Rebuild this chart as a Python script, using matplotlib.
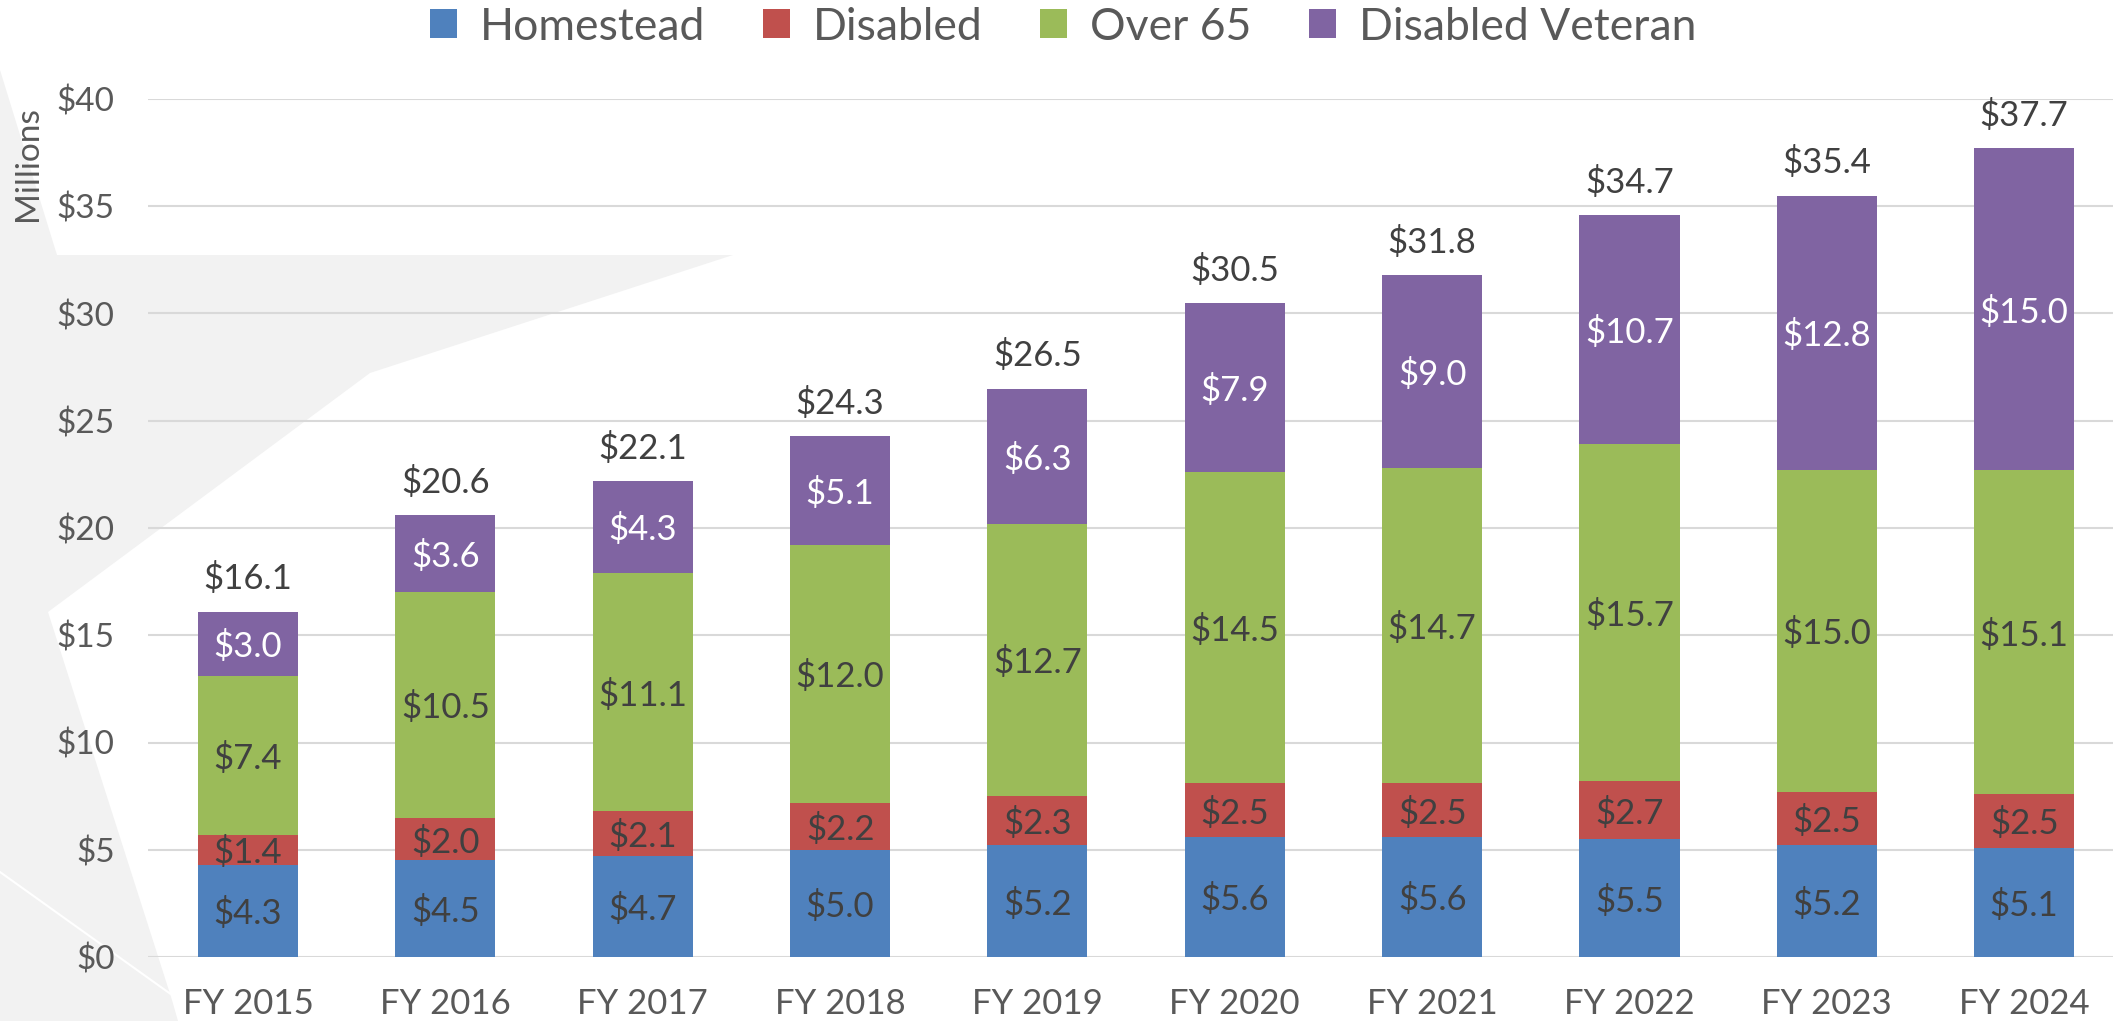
import matplotlib
matplotlib.use("Agg")
import matplotlib.pyplot as plt
from matplotlib.patches import Polygon, Patch
import numpy as np

plt.rcParams['font.family'] = ['Lato', 'DejaVu Sans']

years = ["FY 2015", "FY 2016", "FY 2017", "FY 2018", "FY 2019",
         "FY 2020", "FY 2021", "FY 2022", "FY 2023", "FY 2024"]
homestead = [4.3, 4.5, 4.7, 5.0, 5.2, 5.6, 5.6, 5.5, 5.2, 5.1]
disabled = [1.4, 2.0, 2.1, 2.2, 2.3, 2.5, 2.5, 2.7, 2.5, 2.5]
over65 = [7.4, 10.5, 11.1, 12.0, 12.7, 14.5, 14.7, 15.7, 15.0, 15.1]
dis_veteran = [3.0, 3.6, 4.3, 5.1, 6.3, 7.9, 9.0, 10.7, 12.8, 15.0]
totals = [16.1, 20.6, 22.1, 24.3, 26.5, 30.5, 31.8, 34.7, 35.4, 37.7]
series_names = ["Homestead", "Disabled", "Over 65", "Disabled Veteran"]
yticks = [0, 5, 10, 15, 20, 25, 30, 35, 40]

colors = ["#4F81BD", "#C0504D", "#9BBB59", "#8064A2"]
label_colors = ["#404040", "#404040", "#404040", "#FFFFFF"]

W, H = 2113, 1021
fig = plt.figure(figsize=(W / 100, H / 100), dpi=100)

# faint background watermark
bg = fig.add_axes([0, 0, 1, 1], zorder=-5)
bg.set_xlim(0, W)
bg.set_ylim(H, 0)
bg.axis("off")
bg.add_patch(Polygon([(0, 70), (57, 255), (733, 255), (370, 373), (48, 612),
                      (172, 1000), (178, 1021), (0, 1021)],
                     closed=True, facecolor="#F2F2F2", edgecolor="none"))
bg.plot([0, 172], [872, 995], color="white", lw=1.5)

ax = fig.add_axes([148 / W, 1 - 957 / H, 1 - 148 / W, (957 - 99) / H])
ax.set_facecolor("none")

x = np.arange(len(years))
width = 0.507
data = [homestead, disabled, over65, dis_veteran]
bottom = np.zeros(len(years))
for vals, col, lc, name in zip(data, colors, label_colors, series_names):
    vals = np.array(vals)
    ax.bar(x, vals, width, bottom=bottom, color=col, edgecolor="none",
           label=name, zorder=3)
    for xi, b, v in zip(x, bottom, vals):
        ax.text(xi, b + v / 2, f"${v:.1f}", ha="center", va="center_baseline",
                fontsize=25, color=lc, zorder=4)
    bottom = bottom + vals

for xi, top, t in zip(x, bottom, totals):
    ax.annotate(f"${t:.1f}", (xi, top), xytext=(0, 16), textcoords="offset points",
                ha="center", va="baseline", fontsize=25, color="#404040", zorder=4)

ax.set_xlim(-0.507, 9.45)
ax.set_ylim(0, 40)
ax.set_yticks(yticks)
ax.set_yticklabels([f"${v}" for v in yticks])
ax.set_xticks(x)
ax.set_xticklabels(years)
ax.tick_params(axis="y", length=0, pad=24, labelsize=24, labelcolor="#595959")
ax.tick_params(axis="x", length=0, pad=22, labelsize=25, labelcolor="#595959")
ax.yaxis.grid(True, color="#D9D9D9", lw=1.5, zorder=0)
ax.set_axisbelow(True)
for s in ax.spines.values():
    s.set_visible(False)

fig.text(28 / W, 1 - 164 / H, "Millions", rotation=90, ha="center", va="center",
         fontsize=24, color="#595959")

handles = [Patch(facecolor=c, edgecolor="none") for c in colors]
fig.legend(handles, series_names, loc="center", bbox_to_anchor=(0.503, 1 - 27 / H),
           ncol=4, frameon=False, fontsize=32, labelcolor="#595959",
           handlelength=0.62, handleheight=0.62, handletextpad=0.5,
           columnspacing=1.3)

fig.savefig("out.png", dpi=100)
